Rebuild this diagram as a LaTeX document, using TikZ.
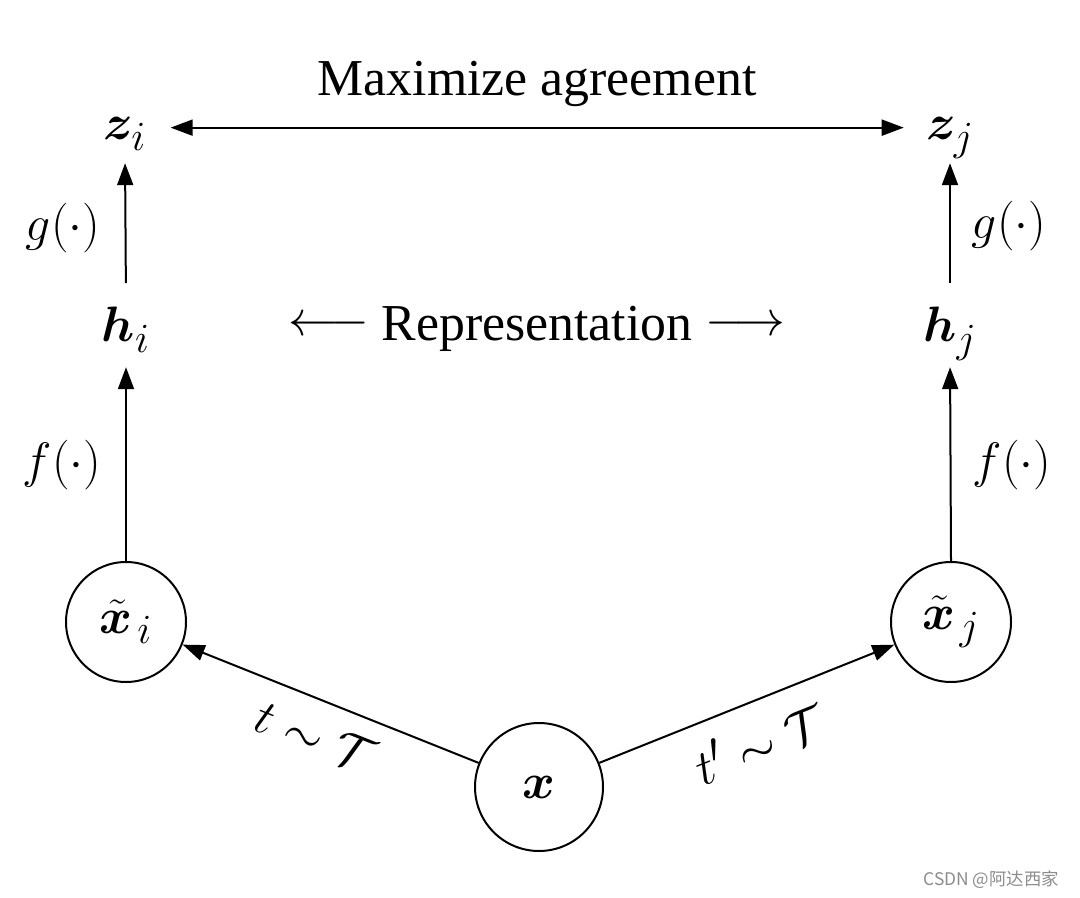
\documentclass[tikz,border=0pt]{standalone}
\usepackage[no-math]{fontspec}
\setmainfont{Liberation Serif}
\newfontfamily\cjk{Noto Sans CJK SC}
\usepackage{amsmath,bm}
\usetikzlibrary{arrows.meta}
\begin{document}
\begin{tikzpicture}[x=0.5pt,y=-0.5pt,
  every node/.style={font=\fontsize{27.5}{33}\selectfont},
  txt/.style={font=\fontsize{25.9}{31}\selectfont},
  lbl/.style={inner sep=0pt, text height=19.25pt, text depth=6.9pt, anchor=base},
  circ/.style={draw, circle, line width=1pt, inner sep=0pt, minimum size=60pt},
  arr/.style={line width=1pt, -{Triangle[length=11pt,width=8pt]}},
  darr/.style={line width=1pt, {Triangle[length=11pt,width=8pt]}-{Triangle[length=11pt,width=8pt]}},
]
\useasboundingbox (0,0) rectangle (1080,898);
% nodes
\node[lbl] (zi) at (125,140) {$\bm{z}_i$};
\node[lbl] (zj) at (950,140) {$\bm{z}_j$};
\node[lbl] (hi) at (126,342) {$\bm{h}_i$};
\node[lbl] (hj) at (950,342) {$\bm{h}_j$};
\node[circ] (xti) at (126,622) {$\tilde{\bm{x}}_{\mkern2mu i}$};
\node[circ] (xtj) at (951,622) {$\tilde{\bm{x}}_{\mkern2mu j}$};
\node[circ, minimum size=64pt] (x) at (539,787) {$\bm{x}$};
% texts
\node[txt, anchor=base] (max) at (537,96) {Maximize agreement};
\node[txt, anchor=base] (rep) at (537,341) {\raisebox{2.5pt}{$\longleftarrow$} Representation \raisebox{2.5pt}{$\longrightarrow$}};
\node (gi) at (63,228) {$g(\cdot)$};
\node (gj) at (1009,226) {$g(\cdot)$};
\node (fi) at (62,465) {$f(\cdot)$};
\node (fj) at (1012,465) {$f(\cdot)$};
\node[rotate=-21.8] (ti) at (315,737) {$t\sim\mathcal{T}$};
\node[rotate=21.8] (tj) at (759,742) {$t'\sim\mathcal{T}$};
\node[anchor=east, text=black!45, font=\cjk\fontsize{8.7}{10}\selectfont] (wm) at (1066,880) {CSDN @阿达西家};
% connectors
\draw[darr, shorten <=12pt, shorten >=11pt] (zi.east) -- (zj.west);
\draw[arr, shorten <=10pt, shorten >=4.5pt] (hi.north) -- (zi.south);
\draw[arr, shorten <=10pt, shorten >=4.5pt] (hj.north) -- (zj.south);
\draw[arr, shorten >=5.5pt] (xti.north) -- (hi.south);
\draw[arr, shorten >=5.5pt] (xtj.north) -- (hj.south);
\draw[arr] (x) -- (xti);
\draw[arr] (x) -- (xtj);
\end{tikzpicture}
\end{document}
